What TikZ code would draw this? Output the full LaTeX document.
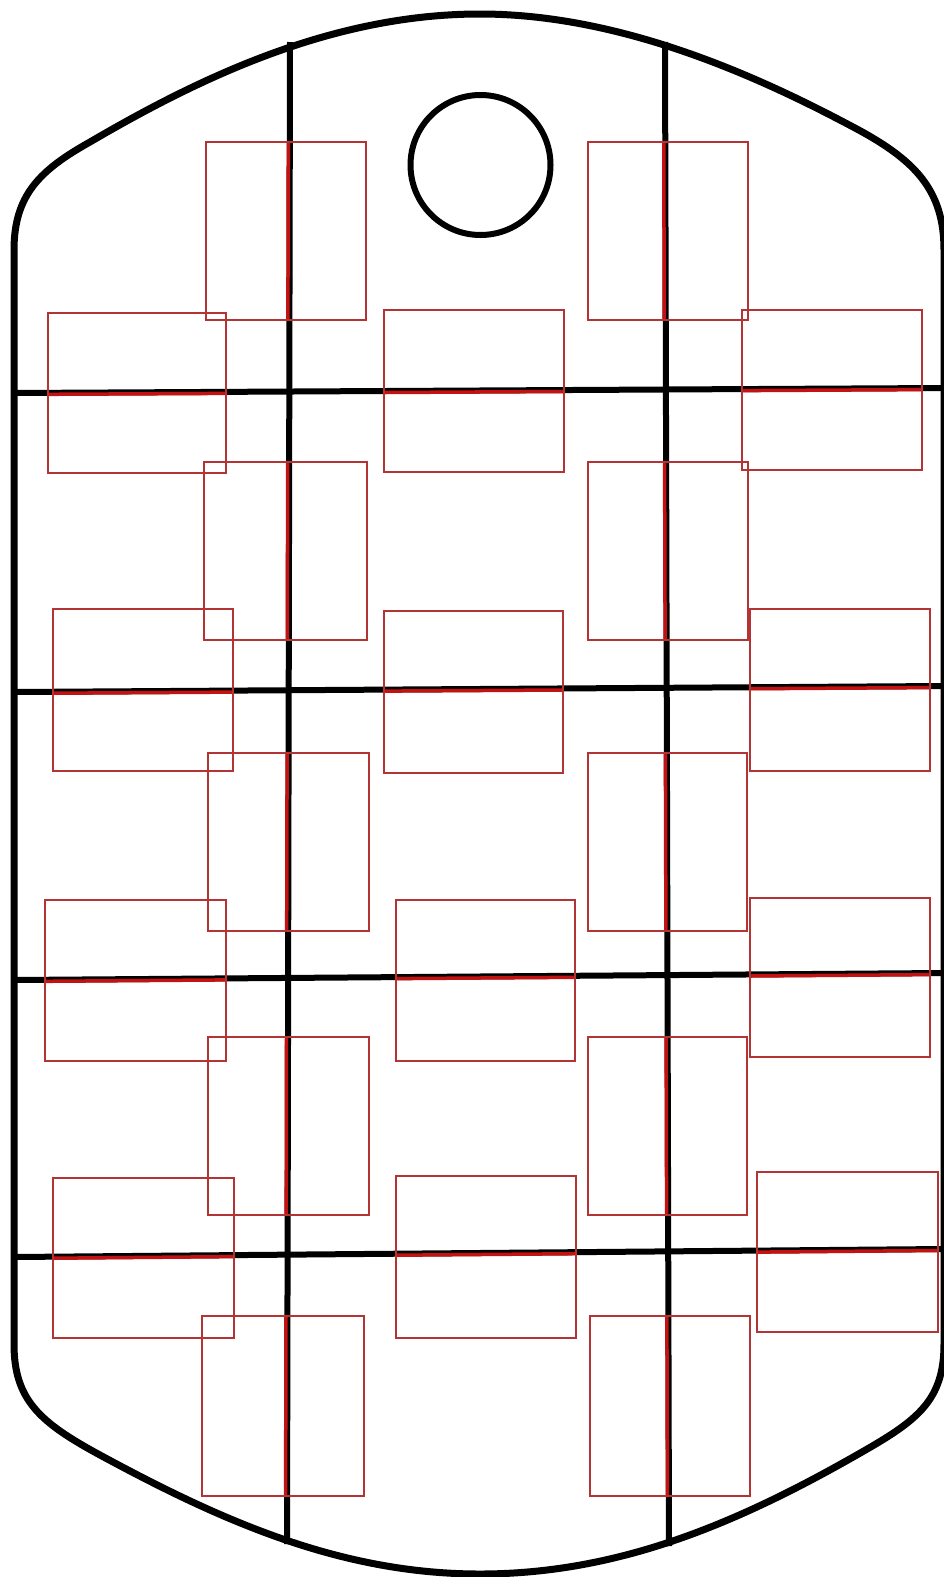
\documentclass[tikz,border=0pt]{standalone}
\usetikzlibrary{calc}
\definecolor{boxred}{RGB}{178,52,52}
\definecolor{hired}{RGB}{196,18,18}
\tikzset{
  tagline/.style={line width=7pt, line join=round},
  gridline/.style={line width=6pt},
  holeline/.style={line width=6pt},
  box/.style={draw=boxred, line width=1.4pt},
  hl/.style={draw=hired, line width=3.5pt}
}
\begin{document}
\begin{tikzpicture}[x=1pt,y=-1pt]
\useasboundingbox (0,0) rectangle (943,1577);
% tag outline
\draw[tagline] (14,1344) -- (14,250)
  .. controls (14,195) and (40,170) .. (90,142)
  .. controls (196,80) and (330,14) .. (480,14)
  .. controls (625,14) and (765,80) .. (855,128)
  .. controls (915,160) and (944,190) .. (944,250)
  -- (944,1344)
  .. controls (944,1400) and (918,1420) .. (862,1452)
  .. controls (740,1522) and (620,1574) .. (480,1574)
  .. controls (340,1574) and (220,1520) .. (100,1455)
  .. controls (40,1422.5) and (14,1400) .. cycle;
% grid lines
\coordinate (v1a) at (290,42);  \coordinate (v1b) at (287,1544);
\coordinate (v2a) at (665,42);  \coordinate (v2b) at (669,1546);
\coordinate (h1a) at (14,393);  \coordinate (h1b) at (943,388);
\coordinate (h2a) at (14,692);  \coordinate (h2b) at (943,686);
\coordinate (h3a) at (14,980);  \coordinate (h3b) at (943,973);
\coordinate (h4a) at (14,1257); \coordinate (h4b) at (943,1249);
\draw[gridline] (v1a) -- (v1b);
\draw[gridline] (v2a) -- (v2b);
\draw[gridline] (h1a) -- (h1b);
\draw[gridline] (h2a) -- (h2b);
\draw[gridline] (h3a) -- (h3b);
\draw[gridline] (h4a) -- (h4b);
% hole
\draw[holeline] (480.5,165) circle (70);
% red overlays on horizontal lines
\draw[hl] (48,394.3) -- (226,393.4);
\draw[hl] (384,392.5) -- (564,391.5);
\draw[hl] (742,390.6) -- (922,389.6);
\draw[hl] (53,693.2) -- (233,692.1);
\draw[hl] (384,691.1) -- (563,690.0);
\draw[hl] (750,688.7) -- (930,687.6);
\draw[hl] (45,981.3) -- (226,979.9);
\draw[hl] (396,978.6) -- (575,977.3);
\draw[hl] (750,976.0) -- (930,974.6);
\draw[hl] (53,1258.2) -- (234,1256.6);
\draw[hl] (396,1255.2) -- (576,1253.7);
\draw[hl] (757,1252.1) -- (938,1250.5);
% red overlays on vertical lines
\draw[hl] (288.3,142) -- (287.9,320);
\draw[hl] (287.7,462) -- (287.3,640);
\draw[hl] (287.1,753) -- (286.7,931);
\draw[hl] (286.5,1037) -- (286.2,1215);
\draw[hl] (286.0,1316) -- (285.6,1496);
\draw[hl] (663.8,142) -- (664.2,320);
\draw[hl] (664.6,462) -- (665.1,640);
\draw[hl] (665.4,753) -- (665.9,931);
\draw[hl] (666.1,1037) -- (666.6,1215);
\draw[hl] (666.9,1316) -- (667.4,1496);
% red boxes
\draw[box] (206,142) rectangle (366,320);
\draw[box] (588,142) rectangle (748,320);
\draw[box] (48,313) rectangle (226,473);
\draw[box] (384,310) rectangle (564,472);
\draw[box] (742,310) rectangle (922,470);
\draw[box] (204,462) rectangle (367,640);
\draw[box] (588,462) rectangle (748,640);
\draw[box] (53,609) rectangle (233,771);
\draw[box] (384,611) rectangle (563,773);
\draw[box] (750,609) rectangle (930,771);
\draw[box] (208,753) rectangle (369,931);
\draw[box] (588,753) rectangle (747,931);
\draw[box] (45,900) rectangle (226,1061);
\draw[box] (396,900) rectangle (575,1061);
\draw[box] (750,898) rectangle (930,1057);
\draw[box] (208,1037) rectangle (369,1215);
\draw[box] (588,1037) rectangle (747,1215);
\draw[box] (53,1178) rectangle (234,1338);
\draw[box] (396,1176) rectangle (576,1338);
\draw[box] (757,1172) rectangle (938,1332);
\draw[box] (202,1316) rectangle (364,1496);
\draw[box] (590,1316) rectangle (750,1496);
\end{tikzpicture}
\end{document}
